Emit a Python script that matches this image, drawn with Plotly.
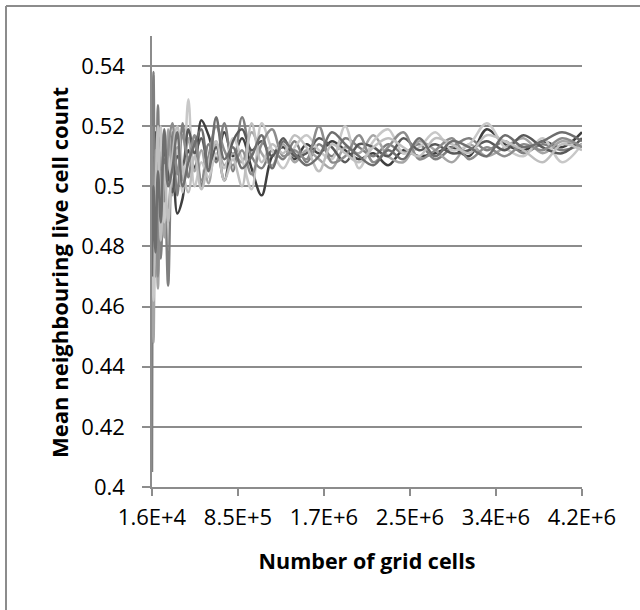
import plotly.graph_objects as go

# Grid side lengths (cells = side^2)
grid_sides = [128, 176, 224, 272, 320, 368, 416, 464, 512, 560, 608, 656, 704, 752, 800,
              848, 896, 944, 992, 1040, 1088, 1136, 1184, 1232, 1280, 1328, 1376, 1424,
              1472, 1520, 1568, 1616, 1664, 1712, 1760, 1808, 1856, 1904, 1952, 2000, 2048]
grid_cells = [s * s for s in grid_sides]

run_1 = [0.500, 0.482, 0.518, 0.490, 0.518, 0.496, 0.492, 0.515, 0.491, 0.496, 0.512, 0.506, 0.522, 0.517,
         0.509, 0.518, 0.510, 0.516, 0.506, 0.497, 0.510, 0.513, 0.509, 0.514, 0.511, 0.515, 0.512, 0.509,
         0.511, 0.507, 0.512, 0.510, 0.511, 0.513, 0.510, 0.519, 0.514, 0.512, 0.515, 0.513, 0.518]
run_2 = [0.405, 0.538, 0.470, 0.527, 0.476, 0.509, 0.467, 0.518, 0.497, 0.521, 0.503, 0.515, 0.500, 0.514,
         0.508, 0.521, 0.505, 0.523, 0.510, 0.506, 0.512, 0.509, 0.515, 0.508, 0.514, 0.510, 0.516, 0.513,
         0.510, 0.514, 0.511, 0.514, 0.509, 0.513, 0.516, 0.512, 0.515, 0.511, 0.514, 0.512, 0.514]
run_3 = [0.490, 0.448, 0.505, 0.466, 0.512, 0.483, 0.519, 0.497, 0.513, 0.502, 0.516, 0.505, 0.512, 0.501,
         0.514, 0.507, 0.511, 0.508, 0.518, 0.511, 0.507, 0.514, 0.508, 0.512, 0.509, 0.506, 0.513, 0.511,
         0.517, 0.510, 0.508, 0.515, 0.512, 0.508, 0.514, 0.510, 0.513, 0.516, 0.511, 0.515, 0.513]
run_4 = [0.498, 0.462, 0.510, 0.482, 0.520, 0.488, 0.510, 0.500, 0.512, 0.498, 0.529, 0.500, 0.508, 0.503,
         0.511, 0.506, 0.516, 0.509, 0.499, 0.521, 0.512, 0.506, 0.513, 0.517, 0.512, 0.509, 0.520, 0.506,
         0.515, 0.519, 0.511, 0.513, 0.518, 0.512, 0.514, 0.521, 0.513, 0.510, 0.516, 0.508, 0.514]
run_5 = [0.510, 0.490, 0.502, 0.517, 0.494, 0.513, 0.504, 0.498, 0.510, 0.507, 0.519, 0.511, 0.516, 0.507,
         0.513, 0.502, 0.515, 0.519, 0.512, 0.515, 0.510, 0.516, 0.510, 0.511, 0.516, 0.513, 0.508, 0.514,
         0.513, 0.510, 0.516, 0.512, 0.514, 0.511, 0.512, 0.515, 0.512, 0.517, 0.513, 0.511, 0.516]
run_6 = [0.520, 0.472, 0.512, 0.470, 0.505, 0.495, 0.512, 0.521, 0.504, 0.517, 0.509, 0.517, 0.502, 0.510,
         0.520, 0.512, 0.507, 0.512, 0.504, 0.514, 0.519, 0.510, 0.512, 0.509, 0.520, 0.508, 0.510, 0.517,
         0.508, 0.513, 0.518, 0.509, 0.512, 0.516, 0.509, 0.513, 0.510, 0.514, 0.512, 0.516, 0.513]
run_7 = [0.485, 0.470, 0.496, 0.520, 0.482, 0.507, 0.488, 0.510, 0.520, 0.506, 0.498, 0.510, 0.499, 0.508,
         0.515, 0.502, 0.509, 0.500, 0.521, 0.508, 0.514, 0.511, 0.517, 0.513, 0.505, 0.514, 0.511, 0.508,
         0.513, 0.516, 0.513, 0.510, 0.516, 0.514, 0.511, 0.517, 0.515, 0.512, 0.508, 0.514, 0.512]
run_8 = [0.470, 0.500, 0.478, 0.505, 0.488, 0.519, 0.500, 0.506, 0.518, 0.500, 0.508, 0.514, 0.519, 0.505,
         0.523, 0.509, 0.513, 0.506, 0.510, 0.517, 0.506, 0.515, 0.511, 0.507, 0.510, 0.518, 0.514, 0.510,
         0.507, 0.512, 0.509, 0.516, 0.510, 0.515, 0.513, 0.510, 0.517, 0.513, 0.515, 0.518, 0.515]

series = [run_1, run_2, run_3, run_4, run_5, run_6, run_7, run_8]
colors = ['#3f3f3f', '#7f7f7f', '#a5a5a5', '#c8c8c8', '#595959', '#8c8c8c', '#bfbfbf', '#6e6e6e']

x_tickvals = [16384, 851968, 1687552, 2523136, 3358720, 4194304]
x_ticktext = ['1.6E+4', '8.5E+5', '1.7E+6', '2.5E+6', '3.4E+6', '4.2E+6']
y_tickvals = [0.40, 0.42, 0.44, 0.46, 0.48, 0.50, 0.52, 0.54]
y_ticktext = ['0.4', '0.42', '0.44', '0.46', '0.48', '0.5', '0.52', '0.54']
x_title = 'Number of grid cells'
y_title = 'Mean neighbouring live cell count'

FONT = 'Open Sans, sans-serif'
AX = '#8c8c8c'

fig = go.Figure()
for vals, c in zip(series, colors):
    fig.add_trace(go.Scatter(x=grid_cells, y=vals, mode='lines',
                             line=dict(color=c, width=2.5, shape='spline', smoothing=1.0),
                             hoverinfo='skip'))

L, R, T, B = 152, 58, 36, 123
W, H = 640, 610
pw, ph = W - L - R, H - T - B

fig.update_layout(
    width=W, height=H,
    margin=dict(l=L, r=R, t=T, b=B),
    paper_bgcolor='white', plot_bgcolor='white',
    showlegend=False,
    font=dict(family=FONT, color='black', size=22),
    xaxis=dict(range=[16384, 4194304], tickmode='array', tickvals=x_tickvals, ticktext=x_ticktext,
               showgrid=False, zeroline=False, showline=True, linecolor=AX, linewidth=1.5,
               ticks='outside', ticklen=7, tickcolor=AX, tickwidth=1.5,
               tickfont=dict(size=22, family=FONT), ticklabelstandoff=3,
               title=dict(text='<b>' + x_title + '</b>', font=dict(size=21.5, family=FONT), standoff=24)),
    yaxis=dict(range=[0.4, 0.55], tickmode='array', tickvals=y_tickvals, ticktext=y_ticktext,
               showgrid=True, gridcolor=AX, gridwidth=1.5, zeroline=False,
               showline=True, linecolor=AX, linewidth=1.5,
               ticks='outside', ticklen=8, tickcolor=AX, tickwidth=1.5,
               tickfont=dict(size=22, family=FONT), ticklabelstandoff=13),
)

# y-axis title placed like the original (slightly below plot centre)
fig.add_annotation(text='<b>' + y_title + '</b>', xref='paper', yref='paper',
                   x=(59 - L) / pw, y=(H - B - 273) / ph, textangle=-90, showarrow=False,
                   xanchor='center', yanchor='middle', font=dict(size=22, family=FONT, color='black'))

# outer chart border (top and left edges visible)
bx = (6 - L) / pw
by = (H - B - 6) / ph
fig.add_shape(type='line', xref='paper', yref='paper', x0=bx, y0=by, x1=1.3, y1=by,
              line=dict(color=AX, width=2))
fig.add_shape(type='line', xref='paper', yref='paper', x0=bx, y0=by, x1=bx, y1=-0.4,
              line=dict(color=AX, width=2))

fig.write_html('out.html')
